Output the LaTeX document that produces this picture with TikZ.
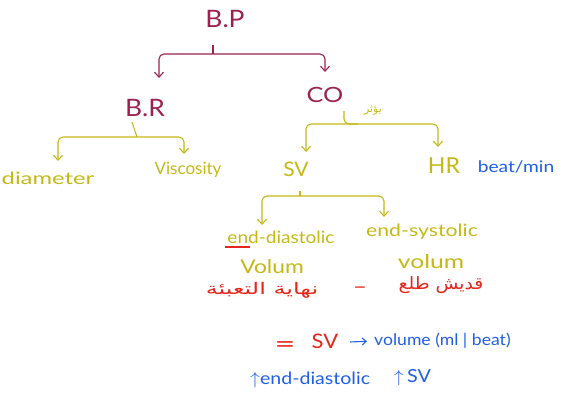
\documentclass[tikz,border=0pt]{standalone}
\usepackage{fontspec}
\usepackage{graphicx}
\setmainfont{Lato}
\newfontfamily\arabicfont[Script=Arabic]{DejaVu Sans}
\TeXXeTstate=1
\usetikzlibrary{arrows.meta}
\definecolor{bpc}{HTML}{9B2150}
\definecolor{olv}{HTML}{C4B816}
\definecolor{blu}{HTML}{1F5FE6}
\definecolor{rdc}{HTML}{E4261C}
\newcommand{\sx}[2]{\scalebox{#1}[1]{#2}}
\newcommand{\fs}[1]{\fontsize{#1}{#1}\selectfont}
\begin{document}
\begin{tikzpicture}[x=1pt,y=-1pt,
  every node/.style={inner sep=1pt, font=\fs{17}},
  ln/.style={line width=1.1pt, rounded corners=5pt},
  arr/.style={ln, -{Straight Barb[length=5pt,width=9pt]}},
  ar/.style={font=\arabicfont\fs{16}}]
\useasboundingbox (0,0) rectangle (570,393);
% top level
\node[font=\fs{24}, text=bpc] (BP) at (225,19) {\sx{1.1}{B.P}};
\node[font=\fs{24}, text=bpc] (BR) at (145,108) {\sx{1.1}{B.R}};
\node[font=\fs{21}, text=bpc] (CO) at (325,95) {\sx{1.2}{CO}};
% second level
\node[text=olv] (dia) at (48,178) {\sx{1.4}{diameter}};
\node[text=olv] (vis) at (188,170) {\sx{1.0}{Viscosity}};
\node[font=\fs{20}, text=olv] (SV) at (296,169) {\sx{1.05}{SV}};
\node[font=\fs{22}, text=olv] (HR) at (444,166) {\sx{1.05}{HR}};
\node[font=\fs{16}, text=blu] (bm) at (516,167) {\sx{1.2}{beat/min}};
\node[text=olv, font=\arabicfont\fs{11}] (yt) at (373,110) {\beginR يؤثر\endR};
% third level
\node[text=olv] (ed) at (281,237) {\sx{1.12}{end-diastolic}};
\node[text=olv] (es) at (422,232) {\sx{1.25}{end-systolic}};
\node[font=\fs{19}, text=olv] (v1) at (272,267) {\sx{1.2}{Volum}};
\node[font=\fs{19}, text=olv] (v2) at (431,262) {\sx{1.3}{volum}};
\draw[rdc, line width=1.2pt] (225,247) -- (250,247);
\node[ar, text=rdc] (a1) at (262,290) {\sx{1.5}{\beginR نهاية التعبئة\endR}};
\node[font=\fs{20}, text=rdc] (dash) at (360,290) {\sx{1.2}{–}};
\node[ar, font=\arabicfont\fs{17}, text=rdc] (a2) at (441,285) {\sx{1.1}{\beginR قديش طلع\endR}};
% bottom lines
\node[font=\fs{24}, text=rdc] (eq) at (285,347) {\sx{1.5}{=}};
\node[font=\fs{20}, text=rdc] (sv2) at (325,341) {\sx{1.1}{SV}};
\node[font=\fs{16}, text=blu, anchor=west] (vol) at (373,341) {\sx{1.1}{volume (ml | beat)}};
\coordinate (s0) at (350,342);
\draw[blu, line width=1.1pt, shorten >=6pt, -{Straight Barb[length=4pt,width=7pt]}] (s0) -- (vol.west);
\node[text=blu, anchor=west] (up1) at (249,380) {\sx{1.15}{$\uparrow$end-diastolic}};
\node[font=\fs{18}, text=blu, anchor=west] (up2) at (393,378) {\sx{1.1}{$\uparrow$\,SV}};
% connectors: B.P
\coordinate (p0) at (213,45);
\coordinate (pj) at (213,54);
\coordinate (pl) at (159,78);
\coordinate (pr) at (325,72);
\draw[ln, bpc] (p0) -- (pj);
\draw[arr, bpc] (pj) -| (pl);
\draw[arr, bpc] (pj) -| (pr);
% B.R
\coordinate (r0) at (132,122);
\coordinate (rj) at (137,137);
\coordinate (rl) at (58,161);
\coordinate (rr) at (184,154);
\draw[ln, olv] (r0) -- (rj);
\draw[arr, olv] (rj) -| (rl);
\draw[arr, olv] (rj) -| (rr);
% CO
\coordinate (c0) at (344,111);
\coordinate (cj) at (358,124);
\coordinate (cl) at (306,152);
\coordinate (cr) at (438,147);
\draw[ln, olv] (c0) |- (cj);
\draw[arr, olv] (cj) -| (cl);
\draw[arr, olv] (cj) -| (cr);
% SV
\coordinate (s1) at (300,191);
\coordinate (sj) at (300,196);
\coordinate (sl) at (262,225);
\coordinate (sr) at (384,217);
\draw[ln, olv] (s1) -- (sj);
\draw[arr, olv] (sj) -| (sl);
\draw[arr, olv] (sj) -| (sr);
\end{tikzpicture}
\end{document}
